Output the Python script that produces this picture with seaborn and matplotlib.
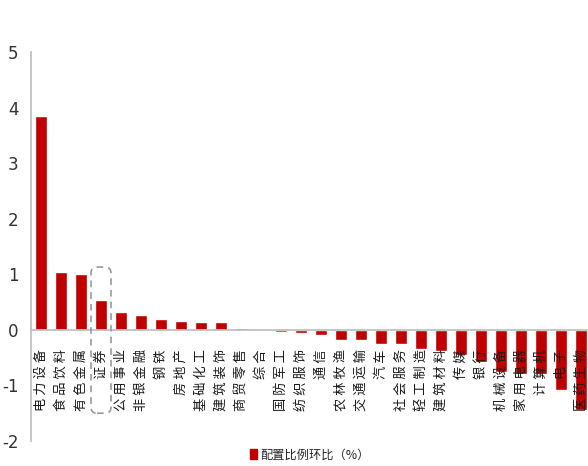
import matplotlib
matplotlib.use("Agg")
import matplotlib.pyplot as plt
from matplotlib.patches import FancyBboxPatch, Patch
import seaborn as sns

industries = ["电力设备", "食品饮料", "有色金属", "证券", "公用事业", "非银金融", "钢铁",
              "房地产", "基础化工", "建筑装饰", "商贸零售", "综合", "国防军工", "纺织服饰",
              "通信", "农林牧渔", "交通运输", "汽车", "社会服务", "轻工制造", "建筑材料",
              "传媒", "银行", "机械设备", "家用电器", "计算机", "电子", "医药生物"]
change_pct = [3.85, 1.04, 1.00, 0.53, 0.32, 0.27, 0.19,
              0.16, 0.14, 0.14, 0.03, -0.02, -0.03, -0.05,
              -0.10, -0.18, -0.19, -0.25, -0.26, -0.34, -0.38,
              -0.45, -0.58, -0.75, -0.80, -0.80, -1.08, -1.45]
y_ticks = [-2, -1, 0, 1, 2, 3, 4, 5]
legend_label = "配置比例环比（%）"
highlight = "证券"

sns.set_theme(style="white")
plt.rcParams["font.family"] = ["Noto Sans CJK SC", "DejaVu Sans"]

RED = "#C00000"
GRAY = "#BFBFBF"

fig = plt.figure(figsize=(5.88, 4.66), dpi=100)
ax = fig.add_axes([31 / 588, 25 / 466, 560 / 588, 389 / 466])

sns.barplot(x=industries, y=change_pct, color=RED, saturation=1, width=0.6, ax=ax)

# spines first: repositioning the bottom spine rebuilds the x ticks
for side in ["top", "right"]:
    ax.spines[side].set_visible(False)
ax.spines["bottom"].set_position(("data", 0))
ax.spines["bottom"].set_color(GRAY)
ax.spines["left"].set_color(GRAY)
ax.set_xlabel("")
ax.set_ylabel("")

ax.set_xlim(-0.5, len(industries) - 0.5)
ax.set_ylim(-2, 5)
ax.tick_params(axis="both", length=0)
ax.tick_params(axis="x", pad=14, labelrotation=90)
ax.tick_params(axis="y", pad=9)
ax.set_axisbelow(False)

ax.set_yticks(y_ticks)
ax.set_yticklabels([str(v) for v in y_ticks], fontsize=12, color="#333333",
                   family=["Liberation Sans Narrow", "DejaVu Sans"])

# category names rotated, letters spread out, hanging below the zero line
ax.set_xticks(range(len(industries)))
ax.set_xticklabels([" ".join(n) for n in industries], fontsize=9.5, color="#1a1a1a",
                   rotation=90, va="top", ha="center")

# dashed rounded frame around the highlighted industry
i = industries.index(highlight)
px_x = 1 / 20.0
px_y = 7 / 389.0
box = FancyBboxPatch((i - 0.5, -1.5), 1.0, 2.63,
                     boxstyle="round,pad=0,rounding_size=0.3",
                     mutation_aspect=px_y / px_x,
                     fill=False, edgecolor="#999999", linestyle=(0, (4, 3)),
                     linewidth=1.2, zorder=5, clip_on=False)
ax.add_patch(box)

fig.legend(handles=[Patch(facecolor=RED, edgecolor=RED, label=legend_label)],
           loc="center", bbox_to_anchor=(0.527, 0.024), frameon=False,
           fontsize=8.8, handlelength=0.6, handleheight=0.9, handletextpad=0.3)

fig.savefig("out.png", dpi=100)
